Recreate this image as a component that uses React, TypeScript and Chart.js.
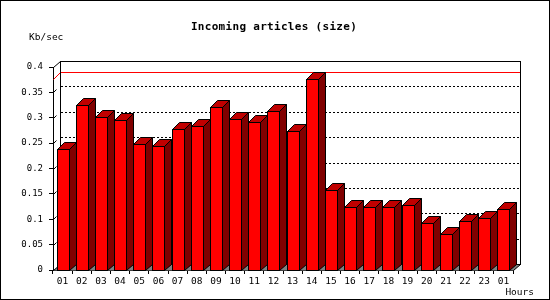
import React, { useEffect, useRef } from 'react';
import { Chart, registerables } from 'chart.js';

Chart.register(...registerables);

const hours = ['01', '02', '03', '04', '05', '06', '07', '08', '09', '10', '11', '12', '13', '14', '15', '16', '17', '18', '19', '20', '21', '22', '23', '01'];
const sizeKbSec = [0.238, 0.326, 0.301, 0.295, 0.249, 0.244, 0.277, 0.283, 0.322, 0.297, 0.291, 0.313, 0.273, 0.376, 0.157, 0.124, 0.124, 0.124, 0.129, 0.092, 0.070, 0.096, 0.102, 0.120];
const yTicks = [0, 0.05, 0.1, 0.15, 0.2, 0.25, 0.3, 0.35, 0.4];
const titleText = 'Incoming articles (size)';
const yAxisTitle = 'Kb/sec';
const xAxisTitle = 'Hours';

const DX = 7;
const DY = 6;
const DY_BAR = 7;
const MONO = '"DejaVu Sans Mono", "Liberation Mono", monospace';

function poly(ctx: CanvasRenderingContext2D, pts: number[][], fill: string | null, stroke: string | null) {
  ctx.beginPath();
  ctx.moveTo(pts[0][0], pts[0][1]);
  for (let i = 1; i < pts.length; i++) ctx.lineTo(pts[i][0], pts[i][1]);
  ctx.closePath();
  if (fill) {
    ctx.fillStyle = fill;
    ctx.fill();
  }
  if (stroke) {
    ctx.strokeStyle = stroke;
    ctx.lineWidth = 1;
    ctx.stroke();
  }
}

function line(ctx: CanvasRenderingContext2D, x1: number, y1: number, x2: number, y2: number, color: string, dash: number[] = []) {
  ctx.beginPath();
  ctx.setLineDash(dash);
  ctx.moveTo(x1, y1);
  ctx.lineTo(x2, y2);
  ctx.strokeStyle = color;
  ctx.lineWidth = 1;
  ctx.stroke();
  ctx.setLineDash([]);
}

const threeD = {
  id: 'threeD',
  beforeDraw(chart: any) {
    const ctx = chart.ctx as CanvasRenderingContext2D;
    ctx.save();
    ctx.fillStyle = '#ffffff';
    ctx.fillRect(0, 0, chart.width, chart.height);
    ctx.restore();
  },
  beforeDatasetsDraw(chart: any) {
    const ctx = chart.ctx as CanvasRenderingContext2D;
    const ys = chart.scales.y;
    const { left, right, top, bottom } = chart.chartArea;
    const L = Math.round(left), R = Math.round(right), T = Math.round(top), B = Math.round(bottom);
    const h = 0.5;
    ctx.save();
    // floor
    poly(ctx, [[L + h, B + h], [R + h, B + h], [R + DX + h, B - DY + h], [L + DX + h, B - DY + h]], '#808080', null);
    // gridlines on back wall
    for (const v of yTicks) {
      if (v === 0 || v === yTicks[yTicks.length - 1]) continue;
      const yf = Math.round(ys.getPixelForValue(v));
      line(ctx, L + DX + 1, yf - DY + h, R + DX, yf - DY + h, '#000000', [2, 2]);
      line(ctx, L + h, yf + h, L + 3 + h, yf - 3 + h, '#000000');
    }
    // max line
    const vmax = Math.max(...sizeKbSec);
    const ym = Math.round(ys.getPixelForValue(vmax));
    line(ctx, L + DX + h, ym - DY_BAR + h, R + DX, ym - DY_BAR + h, '#ff0000');
    line(ctx, L + h, ym + h, L + DX + h, ym - DY_BAR + h, '#ff0000');
    // back wall border
    ctx.strokeStyle = '#000000';
    ctx.lineWidth = 1;
    ctx.strokeRect(L + DX + h, T - DY + h, R - L, B - T);
    // left wall edges
    line(ctx, L + h, T + h, L + DX + h, T - DY + h, '#000000');
    line(ctx, L + h, B + h, L + DX + h, B - DY + h, '#000000');
    // right floor edge
    line(ctx, R + h, B + h, R + DX + h, B - DY + h, '#000000');
    ctx.restore();
  },
  beforeDatasetDraw() {
    return false;
  },
  afterDatasetsDraw(chart: any) {
    const ctx = chart.ctx as CanvasRenderingContext2D;
    const meta = chart.getDatasetMeta(0);
    const h = 0.5;
    ctx.save();
    for (const el of meta.data) {
      const p = el.getProps(['x', 'y', 'base', 'width'], true);
      const xl = Math.round(p.x - p.width / 2);
      const xr = Math.round(p.x + p.width / 2);
      const yt = Math.round(p.y);
      const yb = Math.round(p.base);
      // side
      poly(ctx, [[xr + h, yt + h], [xr + DX + h, yt - DY_BAR + h], [xr + DX + h, yb - DY + h], [xr + h, yb + h]], '#800000', '#000000');
      // top
      poly(ctx, [[xl + h, yt + h], [xl + DX + h, yt - DY_BAR + h], [xr + DX + h, yt - DY_BAR + h], [xr + h, yt + h]], '#c00000', '#000000');
      // front
      ctx.fillStyle = '#ff0000';
      ctx.fillRect(xl, yt, xr - xl, yb - yt);
      ctx.strokeStyle = '#000000';
      ctx.lineWidth = 1;
      ctx.strokeRect(xl + h, yt + h, xr - xl, yb - yt);
    }
    ctx.restore();
  },
  afterDraw(chart: any) {
    const ctx = chart.ctx as CanvasRenderingContext2D;
    ctx.save();
    ctx.fillStyle = '#000000';
    ctx.textBaseline = 'middle';
    ctx.font = `bold 11px ${MONO}`;
    (ctx as any).letterSpacing = '0.3px';
    ctx.textAlign = 'center';
    ctx.fillText(titleText, 274, 27);
    (ctx as any).letterSpacing = '0px';
    ctx.font = `9.5px ${MONO}`;
    ctx.textAlign = 'left';
    ctx.fillText(yAxisTitle, 29, 38);
    ctx.textAlign = 'right';
    ctx.fillText(xAxisTitle, 534, 293);
    ctx.strokeStyle = '#000000';
    ctx.lineWidth = 1;
    ctx.strokeRect(0.5, 0.5, chart.width - 1, chart.height - 1);
    ctx.restore();
  },
};

export default function App() {
  const ref = useRef<HTMLCanvasElement>(null);
  useEffect(() => {
    document.body.style.margin = '0';
    const canvas = ref.current;
    if (!canvas) return;
    const chart = new Chart(canvas, {
      type: 'bar',
      data: {
        labels: hours,
        datasets: [
          {
            label: titleText,
            data: sizeKbSec,
            backgroundColor: '#ff0000',
            borderColor: '#000000',
            borderWidth: 1,
            barPercentage: 0.62,
            categoryPercentage: 1,
          },
        ],
      },
      options: {
        animation: false,
        responsive: false,
        devicePixelRatio: 1,
        events: [],
        layout: { padding: { top: 67, right: 37, left: 0, bottom: 0 } },
        plugins: {
          legend: { display: false },
          title: { display: false },
          tooltip: { enabled: false },
        },
        scales: {
          x: {
            offset: true,
            grid: { display: true, offset: true, drawOnChartArea: false, drawTicks: true, tickLength: 4, color: '#000000' },
            border: { display: true, color: '#000000' },
            ticks: { color: '#000000', font: { family: MONO, size: 9.5 }, padding: 2, maxRotation: 0, autoSkip: false },
            afterFit: (s: any) => {
              s.height = 30;
            },
          },
          y: {
            min: 0,
            max: 0.4,
            grid: { display: true, drawOnChartArea: false, drawTicks: true, tickLength: 4, color: '#000000' },
            border: { display: true, color: '#000000' },
            ticks: {
              color: '#000000',
              font: { family: MONO, size: 9 },
              padding: 6,
              callback: (v: any) => String(+Number(v).toFixed(2)),
            },
            afterBuildTicks: (s: any) => {
              s.ticks = yTicks.map((v) => ({ value: v }));
            },
            afterFit: (s: any) => {
              s.width = 53;
            },
          },
        },
      },
      plugins: [threeD],
    });
    return () => chart.destroy();
  }, []);
  return (
    <div style={{ position: 'fixed', left: 0, top: 0, width: 550, height: 300 }}>
      <canvas ref={ref} width={550} height={300} style={{ width: 550, height: 300, display: 'block' }} />
    </div>
  );
}
